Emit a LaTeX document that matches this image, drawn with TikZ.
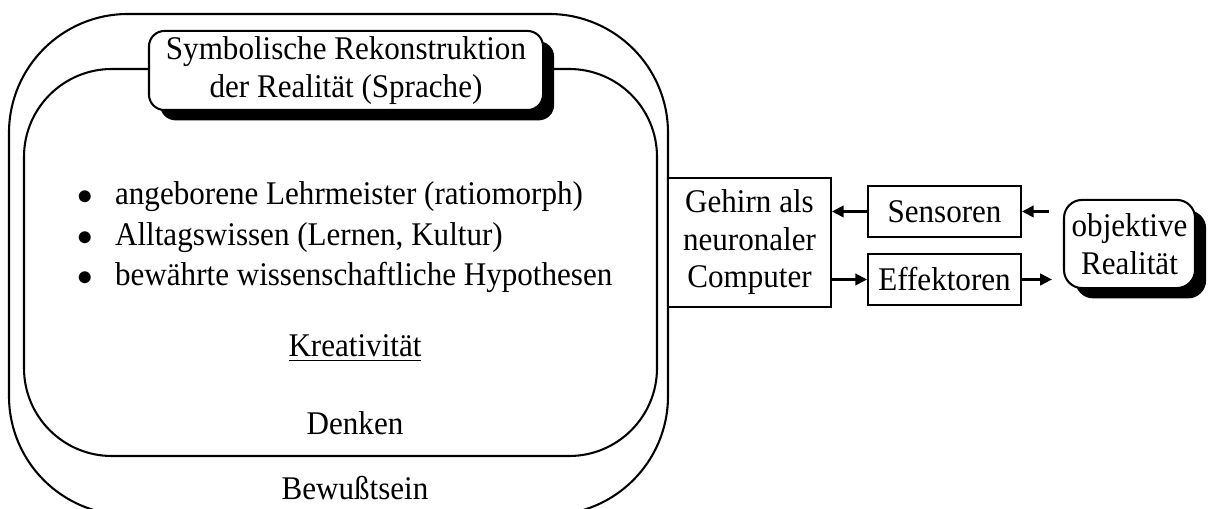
\documentclass[tikz,border=0pt]{standalone}
\usepackage{fontspec}
\setmainfont{Liberation Serif}[FakeStretch = 0.94]
\usetikzlibrary{arrows.meta,shadows}

\begin{document}
\begin{tikzpicture}
          [x = 0.387pt, y = -0.387pt, line width = 0.8pt,
           >= {Triangle[length = 4.5pt, width = 4.5pt]},
           every node/.style = {font = \fontsize{12.8}{14.5}\selectfont},
           box/.style = {draw, fill = white, align = center, inner sep = 0pt},
           shadowbox/.style = {box, rounded corners = 6pt,
             drop shadow = {shadow xshift = 4.3pt, shadow yshift = -4pt,
                            fill = black, opacity = 1}}]
          \clip (0,0) rectangle (1208,509);
          \draw[rounded corners = 46pt] (9,14) rectangle (668,515);
          \draw[rounded corners = 34pt] (24,69) rectangle (657,456);
          \node[shadowbox, minimum width = 152.5pt, minimum height = 30.6pt]
            (symb) at (346,70.5) {Symbolische Rekonstruktion\\der Realität (Sprache)};
          \node[anchor = west, align = left, font = \fontsize{12.8}{15.7}\selectfont]
            (wissen) at (68,237.5)
            {$\bullet$\hspace{8.5pt}angeborene Lehrmeister (ratiomorph)\\
             $\bullet$\hspace{8.5pt}Alltagswissen (Lernen, Kultur)\\
             $\bullet$\hspace{8.5pt}bewährte wissenschaftliche Hypothesen};
          \node (krea) at (355,348) {\underline{Kreativität}};
          \node (denk) at (355,423) {Denken};
          \node (bewu) at (355,488) {Bewußtsein};
          \node[box, minimum width = 63.1pt, minimum height = 49.9pt]
            (geh) at (749.5,242.5) {Gehirn als\\neuronaler\\Computer};
          \node[box, minimum width = 59.2pt, minimum height = 19.7pt]
            (sens) at (944.5,211.5) {Sensoren};
          \node[box, minimum width = 59.2pt, minimum height = 19.7pt]
            (eff) at (944.5,279.5) {Effektoren};
          \node[shadowbox, rounded corners = 7pt, minimum width = 50.7pt, minimum height = 34.1pt]
            (obj) at (1129.5,244) {objektive\\Realität};
          \draw[->] (sens.west) -- (sens.west -| geh.east);
          \draw[->] (geh.east |- eff.west) -- (eff.west);
          \draw[->, shorten <= 5.4pt] (obj.west |- sens.east) -- (sens.east);
          \draw[->, shorten >= 4.3pt] (eff.east) -- (eff.east -| obj.west);
        \end{tikzpicture}
\end{document}
